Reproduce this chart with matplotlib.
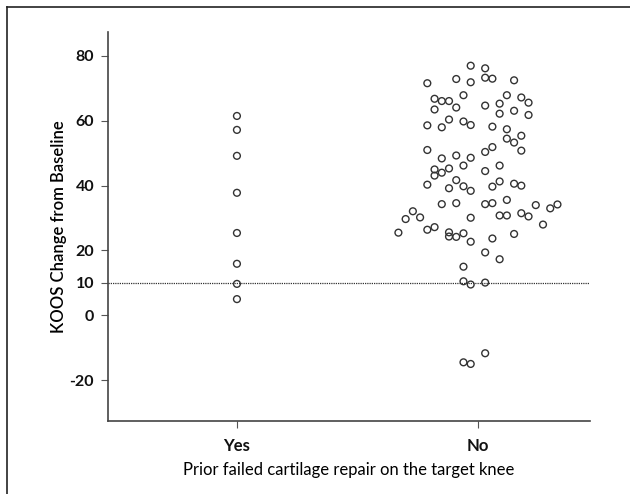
import numpy as np
import matplotlib.pyplot as plt
from matplotlib.lines import Line2D

plt.rcParams["font.family"] = ["Lato", "DejaVu Sans"]

categories = ["Yes", "No"]

# KOOS change per patient
yes_vals = [61.5, 57.2, 49.2, 37.8, 25.4, 15.9, 9.7, 5.0]

# "No" group: horizontal jitter offset (category units) and value
no_offsets = [
    -0.03, 0.03, -0.21, -0.09, -0.03, 0.03, 0.06, 0.15,
    -0.06, -0.18, -0.15, -0.12, -0.18, -0.09, 0.03, 0.09, 0.12, 0.18, 0.21,
    0.09, 0.15, 0.21,
    -0.21, -0.15, -0.12, -0.06, -0.03, 0.06, 0.12, 0.18, 0.12, 0.15,
    -0.21, 0.18, 0.03, 0.06, -0.15, -0.09, -0.03,
    -0.18, -0.18, -0.15, -0.12, -0.06, 0.03, 0.09,
    -0.21, -0.09, -0.12, -0.06, -0.03, 0.06, 0.09, 0.15, 0.18,
    -0.15, -0.09, 0.03, 0.06, 0.12, 0.24, 0.30, 0.33,
    -0.27, -0.30, -0.24, -0.03, 0.09, 0.12, 0.18, 0.21, 0.27,
    -0.33, -0.21, -0.18, -0.12, -0.12, -0.09, -0.06, -0.03, 0.06, 0.15,
    0.03, 0.09, -0.06, -0.06, -0.03, 0.03,
    -0.06, -0.03, 0.03,
]
no_vals = [
    77.0, 76.2, 71.6, 72.9, 71.9, 73.3, 73.0, 72.5,
    67.9, 66.8, 66.1, 66.1, 63.5, 64.1, 64.7, 65.3, 67.9, 67.2, 65.6,
    62.2, 63.1, 61.8,
    58.6, 58.0, 60.4, 59.8, 58.7, 58.2, 57.4, 55.4, 54.5, 53.3,
    51.0, 50.8, 50.4, 51.9, 48.4, 49.3, 48.6,
    45.0, 43.1, 44.0, 45.3, 46.2, 44.5, 46.2,
    40.3, 41.7, 39.2, 39.8, 38.4, 39.7, 41.3, 40.6, 40.0,
    34.3, 34.6, 34.3, 34.6, 35.6, 34.0, 33.0, 34.2,
    32.1, 29.7, 30.2, 30.1, 30.8, 30.8, 31.5, 30.5, 28.0,
    25.5, 26.4, 27.2, 25.6, 24.3, 24.2, 25.3, 22.7, 23.7, 25.1,
    19.4, 17.3, 15.0, 10.5, 9.5, 10.1,
    -14.5, -15.0, -11.7,
]

y_ticks = [-20, 0, 10, 20, 40, 60, 80]
threshold = 10

fig = plt.figure(figsize=(6.3, 4.94), dpi=100)
ax = fig.add_axes([108 / 630, 1 - 421 / 494, (590 - 108) / 630, (421 - 32) / 494])

mk = dict(s=24, facecolors="none", edgecolors="#333333", linewidths=1.0, zorder=3)
ax.scatter(np.zeros(len(yes_vals)), yes_vals, **mk)
ax.scatter(1 + np.array(no_offsets), no_vals, **mk)

ax.axhline(threshold, color="#333333", lw=0.9, ls=(0, (1, 0.8)), zorder=2)

ax.set_xlim(-0.535, 1.465)
ax.set_ylim(-32.6, 87.4)
ax.set_yticks(y_ticks)
ax.set_yticklabels([str(t) for t in y_ticks], fontweight="bold", fontsize=11.5)
ax.set_xticks([0, 1])
ax.set_xticklabels(categories, fontweight="bold", fontsize=12)
ax.tick_params(axis="both", direction="out", length=5, width=0.8, color="#555555",
               labelcolor="#111111")
ax.tick_params(axis="x", pad=7)
ax.tick_params(axis="y", pad=5)

for side in ("top", "right"):
    ax.spines[side].set_visible(False)
for side in ("left", "bottom"):
    ax.spines[side].set_color("#444444")
    ax.spines[side].set_linewidth(1.2)

ax.set_ylabel("KOOS Change from Baseline", fontsize=12, fontweight="semibold", labelpad=2)
ax.set_xlabel("Prior failed cartilage repair on the target knee", fontsize=12, labelpad=6)

# outer frame (top and left edges only visible)
fig.add_artist(Line2D([7 / 630, 1], [1 - 7 / 494, 1 - 7 / 494], transform=fig.transFigure,
                      color="#222222", lw=1.2))
fig.add_artist(Line2D([7 / 630, 7 / 630], [0, 1 - 7 / 494], transform=fig.transFigure,
                      color="#222222", lw=1.2))

fig.savefig("out.png", dpi=100)
